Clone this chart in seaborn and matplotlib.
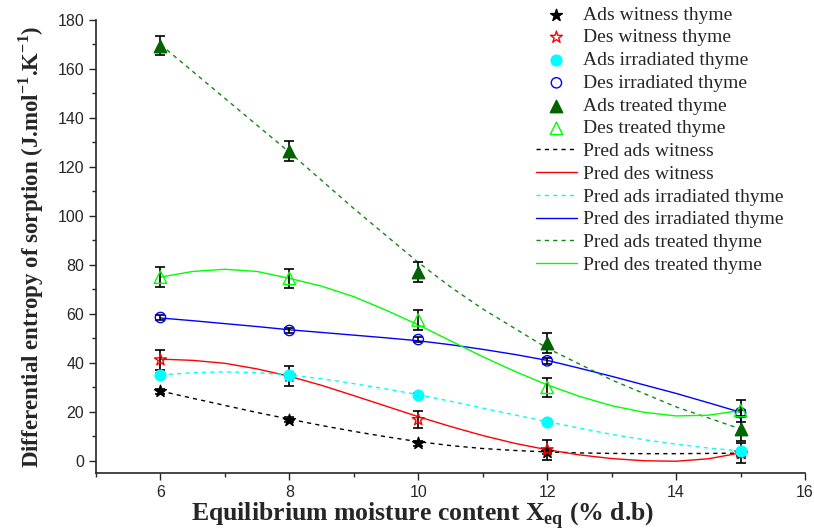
import numpy as np
import pandas as pd
import matplotlib
matplotlib.use("Agg")
import matplotlib.pyplot as plt
import seaborn as sns
from matplotlib.ticker import MultipleLocator

# measured points
x_meas = [6, 8, 10, 12, 15]
ads_witness = [28.4, 16.8, 7.2, 3.7, 3.0]
des_witness = [41.2, 34.5, 16.8, 4.5, 3.2]
ads_irradiated = [35.2, 35.0, 27.0, 15.8, 4.0]
des_irradiated = [58.5, 53.2, 49.5, 40.8, 19.6]
ads_treated = [169.5, 126.5, 77.0, 48.0, 13.0]
des_treated = [75.0, 74.5, 57.5, 30.0, 20.5]

err_ads_witness = [1.0, 1.0, 1.0, 1.0, 1.0]
err_des_witness = [4.0, 4.0, 3.5, 4.0, 4.0]
err_ads_irradiated = [0.5, 0.5, 0.5, 0.5, 0.5]
err_des_irradiated = [1.2, 1.2, 1.2, 1.2, 1.2]
err_ads_treated = [3.8, 4.0, 4.0, 4.0, 5.0]
err_des_treated = [4.0, 4.0, 4.0, 4.0, 4.5]

# predicted curves, every 0.5
x_pred = [6, 6.5, 7, 7.5, 8, 8.5, 9, 9.5, 10, 10.5, 11, 11.5, 12, 12.5, 13, 13.5, 14, 14.5, 15]
pred_ads_witness = [28.5, 25.5, 22.6, 19.7, 17, 14.4, 12, 9.8, 7.8, 6.2, 5, 4.2, 3.6, 3.2, 3, 2.9, 2.9, 3, 3.1]
pred_des_witness = [41.5, 41, 39.8, 37.5, 34.5, 30.8, 26.6, 22.3, 18, 14, 10.3, 7.1, 4.5, 2.4, 0.9, 0, -0.2, 0.8, 3.2]
pred_ads_irradiated = [35, 36, 36.3, 36, 35, 33.5, 31.5, 29.3, 27, 24.3, 21.5, 18.7, 16, 13.3, 10.8, 8.6, 6.8, 5.2, 4]
pred_des_irradiated = [58.3, 57.2, 56, 54.8, 53.5, 52.4, 51.3, 50.2, 49, 47.4, 45.5, 43.4, 41, 37.8, 34.5, 31, 27.5, 23.7, 19.8]
pred_ads_treated = [170, 159, 148, 137, 126, 114.5, 103, 92, 81, 71, 62, 54, 46, 39.5, 33, 27.5, 22, 17.5, 13]
pred_des_treated = [75, 77.3, 78.2, 77.3, 74.5, 71.3, 67, 61.5, 55.5, 49, 42.5, 36.5, 31, 26.3, 22.5, 19.8, 18.3, 18.6, 20.5]

sns.set_style("ticks")
plt.rcParams['font.family'] = ['Liberation Serif', 'DejaVu Serif']
plt.rcParams['mathtext.fontset'] = 'custom'
plt.rcParams['mathtext.rm'] = 'Liberation Serif'
plt.rcParams['mathtext.bf'] = 'Liberation Serif:bold'

fig = plt.figure(figsize=(8.14, 5.31), dpi=100)
ax = fig.add_axes([96 / 814, 1 - 473 / 531, (805 - 96) / 814, (473 - 20) / 531])

# points: (values, errors, label, marker, face, edge, size)
points = [
    (ads_witness, err_ads_witness, "Ads witness thyme", "*", "black", "black", 80),
    (des_witness, err_des_witness, "Des witness thyme", "*", "none", "red", 80),
    (ads_irradiated, err_ads_irradiated, "Ads irradiated thyme", "o", "#00FFFF", "#00FFFF", 60),
    (des_irradiated, err_des_irradiated, "Des irradiated thyme", "o", "none", "blue", 55),
    (ads_treated, err_ads_treated, "Ads treated thyme", "^", "#006400", "#006400", 80),
    (des_treated, err_des_treated, "Des treated thyme", "^", "none", "#00FF00", 80),
]

preds = [
    (pred_ads_witness, "Pred ads witness", "black", (0, (3, 3))),
    (pred_des_witness, "Pred des witness", "red", "-"),
    (pred_ads_irradiated, "Pred ads irradiated thyme", "#00FFFF", (0, (3, 3))),
    (pred_des_irradiated, "Pred des irradiated thyme", "blue", "-"),
    (pred_ads_treated, "Pred ads treated thyme", "#118811", (0, (3, 3))),
    (pred_des_treated, "Pred des treated thyme", "#00FF00", "-"),
]

for vals, lab, col, ls in preds:
    d = pd.DataFrame({"x": x_pred, "y": vals})
    sns.lineplot(data=d, x="x", y="y", ax=ax, color=col, lw=1.0,
                 linestyle=ls, label=lab, zorder=2)

for vals, errs, lab, mk, fc, ec, s in points:
    ax.errorbar(x_meas, vals, yerr=errs, fmt="none", ecolor="black",
                elinewidth=1.2, capsize=3.5, capthick=1.2, zorder=3)
    d = pd.DataFrame({"x": x_meas, "y": vals})
    sns.scatterplot(data=d, x="x", y="y", ax=ax, marker=mk, s=s,
                    facecolor=fc, edgecolor=ec, linewidth=1.0,
                    label=lab, zorder=4)

h, l = ax.get_legend_handles_labels()
order = [l.index(p[2]) for p in points] + [l.index(p[1]) for p in preds]
ax.legend([h[i] for i in order], [l[i] for i in order],
          loc="upper left", bbox_to_anchor=(536 / 814, 1 - 6 / 531),
          bbox_transform=fig.transFigure, frameon=False, fontsize=14,
          labelspacing=0.265, handlelength=2.1, handletextpad=0.3,
          borderaxespad=0, borderpad=0, scatterpoints=1)

ax.set_xlim(5, 16)
ax.set_ylim(-5, 180)
ax.xaxis.set_major_locator(MultipleLocator(2))
ax.xaxis.set_minor_locator(MultipleLocator(1))
ax.yaxis.set_major_locator(MultipleLocator(20))
ax.yaxis.set_minor_locator(MultipleLocator(10))
ax.set_xticks([6, 8, 10, 12, 14, 16])
ax.tick_params(which="major", direction="out", length=5, width=1, labelsize=11.5)
ax.tick_params(which="minor", direction="out", length=3, width=1)
for t in ax.get_xticklabels() + ax.get_yticklabels():
    t.set_family(['Liberation Sans', 'DejaVu Sans'])
for sp in ["top", "right"]:
    ax.spines[sp].set_visible(False)
ax.spines["left"].set_linewidth(1.2)
ax.spines["bottom"].set_linewidth(1.2)

ax.set_xlabel(r"Equilibrium moisture content X$_{\mathbf{eq}}$ (% d.b)",
              fontsize=18.5, fontweight="bold", labelpad=0)
ax.xaxis.label.set_x(0.461)
ax.set_ylabel(r"Differential entropy of sorption (J.mol$^{\mathbf{-1}}$.K$^{\mathbf{-1}}$)",
              fontsize=16.5, fontweight="bold", labelpad=8)

fig.savefig("out.png", dpi=100)
